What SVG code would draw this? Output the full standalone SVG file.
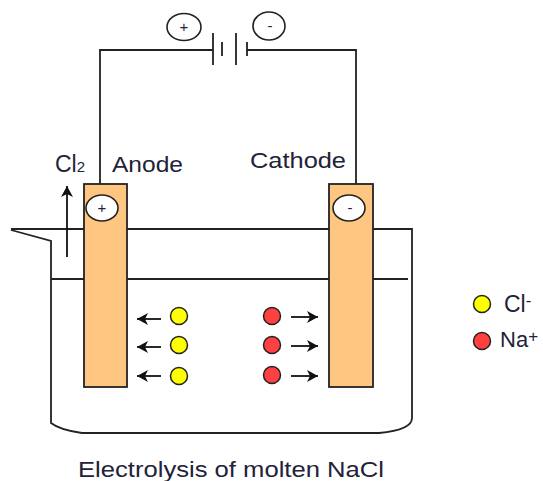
<svg xmlns="http://www.w3.org/2000/svg" width="543" height="481" viewBox="0 0 543 481">
<style>
.l{fill:none;stroke:#222;stroke-width:1.8}
.e{fill:#ffc682;stroke:#222;stroke-width:1.8}
.c{fill:#fff;stroke:#222;stroke-width:1.6}
.y{fill:#ff0;stroke:#222;stroke-width:1.5}
.r{fill:#ff4040;stroke:#222;stroke-width:1.5}
.a{fill:none;stroke:#111;stroke-width:1.8;marker-end:url(#ah)}
text{font-family:"Liberation Sans",Arial,sans-serif;fill:#222238;font-size:22px}
.s{font-size:15px}
</style>
<defs><marker id="ah" markerUnits="userSpaceOnUse" markerWidth="14" markerHeight="14" refX="12" refY="6" orient="auto"><path d="M1 0L12 6L1 12L4 6Z" fill="#111"/></marker></defs>
<g id="connectors">
<path class="l" d="M100 184V50H213M247 50H356V184"/>
<path class="l" d="M213 33V65M222 42V56M236 33V65M247 42V56"/>
<path class="l" d="M11 230L51 241V423Q60 430 82 433H379Q412 430 412 418V229H11"/>
<path class="l" d="M51 279H408"/>
<path class="a" d="M67 257V186"/>
<path class="a" d="M161 319H137"/>
<path class="a" d="M161 347H137"/>
<path class="a" d="M161 376H137"/>
<path class="a" d="M291 317H318"/>
<path class="a" d="M291 346H318"/>
<path class="a" d="M291 376H318"/>
</g>
<g id="anode"><rect class="e" x="84" y="184" width="43" height="203"/><ellipse class="c" cx="102" cy="208" rx="16" ry="13"/><text class="s" x="102" y="213" text-anchor="middle">+</text><text x="112" y="172" textLength="71" lengthAdjust="spacingAndGlyphs">Anode</text></g>
<g id="cathode"><rect class="e" x="329" y="184" width="44" height="203"/><ellipse class="c" cx="349" cy="208" rx="16" ry="13"/><text class="s" x="350" y="213" text-anchor="middle">-</text><text x="250" y="168" textLength="96" lengthAdjust="spacingAndGlyphs">Cathode</text></g>
<g id="battery-plus"><ellipse class="c" cx="184" cy="27" rx="17" ry="13.5"/><text class="s" x="184" y="32" text-anchor="middle">+</text></g>
<g id="battery-minus"><ellipse class="c" cx="269" cy="26" rx="16" ry="14"/><text class="s" x="270" y="31" text-anchor="middle">-</text></g>
<g id="chlorine-gas"><text x="55" y="172" font-size="23" style="font-size:23px">Cl<tspan style="font-size:15px">2</tspan></text></g>
<g id="chloride-ions"><circle class="y" cx="179" cy="316" r="8.5"/><circle class="y" cx="179" cy="345" r="8.5"/><circle class="y" cx="179" cy="376" r="8.5"/></g>
<g id="sodium-ions"><circle class="r" cx="272" cy="316" r="8.5"/><circle class="r" cx="272" cy="345" r="8.5"/><circle class="r" cx="272" cy="375" r="8.5"/></g>
<g id="legend-cl"><circle class="y" cx="482" cy="304" r="8.5"/><text x="504" y="312" style="font-size:23px">Cl<tspan style="font-size:17px" dy="-6">-</tspan></text></g>
<g id="legend-na"><circle class="r" cx="482" cy="341" r="8.5"/><text x="500" y="347">Na<tspan style="font-size:17px" dy="-5">+</tspan></text></g>
<g id="caption"><text x="78" y="477" textLength="306" lengthAdjust="spacingAndGlyphs">Electrolysis of molten NaCl</text></g>
</svg>
